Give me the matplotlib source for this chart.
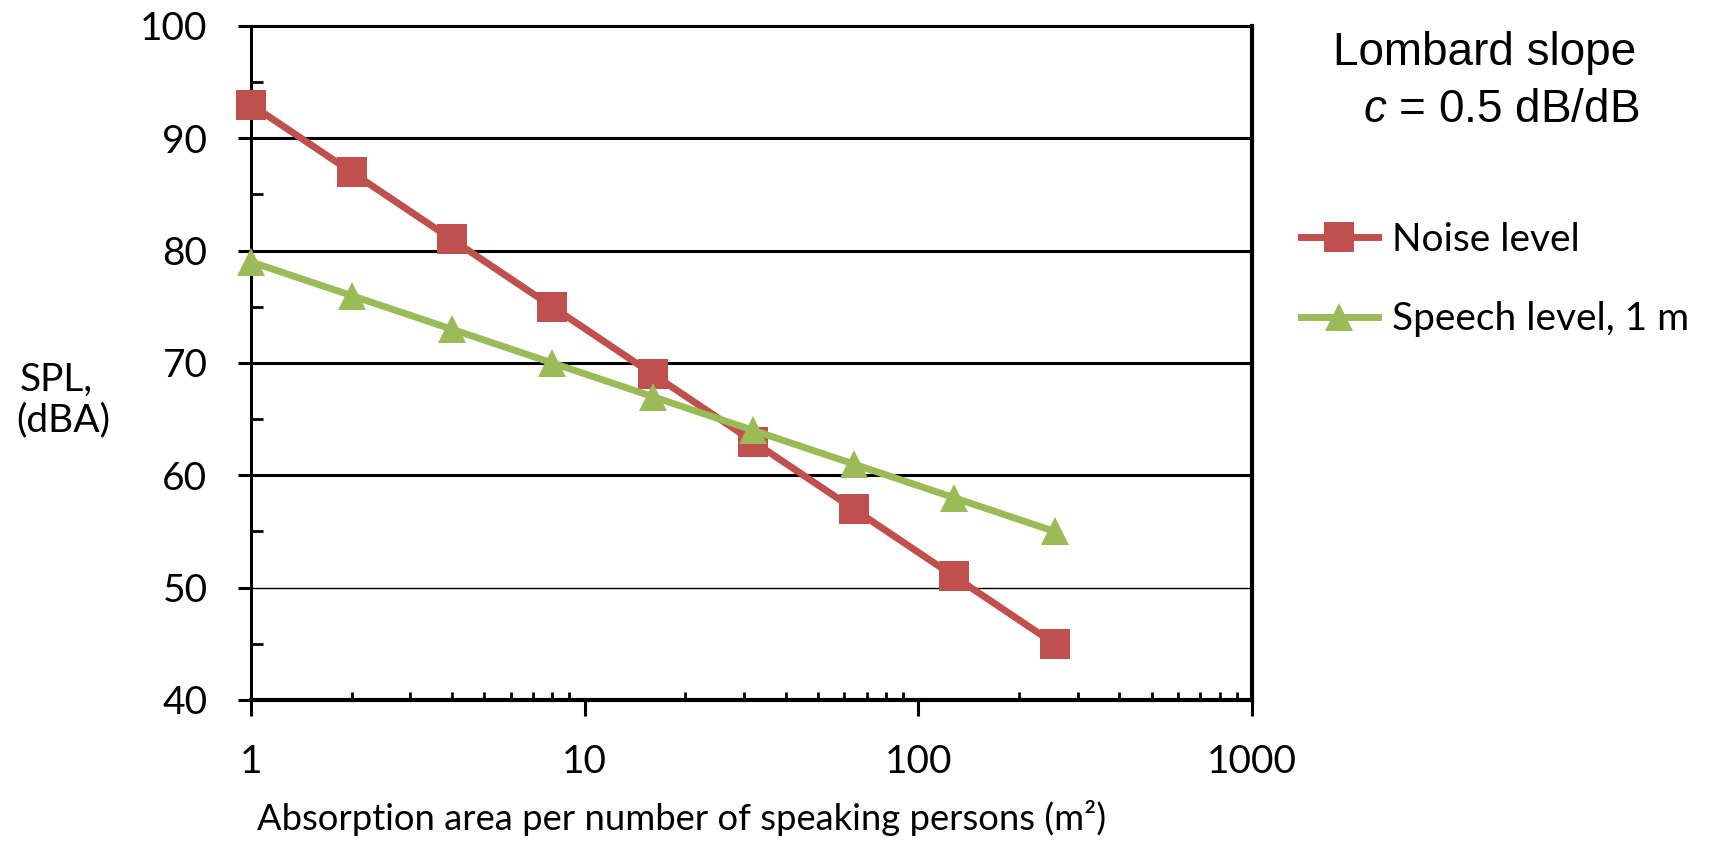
import matplotlib
matplotlib.use('Agg')
import matplotlib.pyplot as plt
from matplotlib.ticker import FixedLocator, NullFormatter

plt.rcParams['font.family'] = ['Lato', 'DejaVu Sans']
plt.rcParams['mathtext.fontset'] = 'custom'
plt.rcParams['mathtext.rm'] = 'Liberation Sans'
plt.rcParams['mathtext.it'] = 'Liberation Sans:italic'

# absorption area per speaking person (m2) and the two levels (dBA)
area = [1, 2, 4, 8, 16, 32, 64, 128, 256]
noise_level = [93, 87, 81, 75, 69, 63, 57, 51, 45]
speech_level = [79, 76, 73, 70, 67, 64, 61, 58, 55]

y_ticks = [40, 50, 60, 70, 80, 90, 100]
x_ticks = [1, 10, 100, 1000]
x_tick_labels = ['1', '10', '100', '1000']

RED = '#C0504D'
GREEN = '#9BBB59'

fig = plt.figure(figsize=(17.22, 8.41), dpi=100)
ax = fig.add_axes([0.1458, 0.1677, 0.5813, 0.8014])

ax.set_xscale('log')
ax.set_xlim(1, 1000)
ax.set_ylim(40, 100)

# horizontal gridlines (the 100 line doubles as the top border)
for v in y_ticks[1:]:
    ax.axhline(v, color='black', lw=1.0 if v == 50 else 2.2, zorder=1, clip_on=False)

ax.plot(area, noise_level, color=RED, lw=5.0, marker='s', ms=21, mew=0,
        label='Noise level', zorder=3, clip_on=False)
ax.plot(area, speech_level, color=GREEN, lw=5.0, marker='^', ms=20, mew=0,
        label='Speech level, 1 m', zorder=4, clip_on=False)

ax.spines['top'].set_visible(False)
ax.spines['left'].set_linewidth(2.2)
ax.spines['bottom'].set_linewidth(3.0)
ax.spines['right'].set_linewidth(3.0)

ax.set_yticks(y_ticks)
ax.yaxis.set_minor_locator(FixedLocator([45, 55, 65, 75, 85, 95]))
ax.tick_params(axis='y', which='major', direction='out', length=9.4, width=2.2,
               pad=22, labelsize=28)
ax.tick_params(axis='y', which='minor', direction='in', length=8.6, width=2.0)

ax.set_xticks(x_ticks)
ax.set_xticklabels(x_tick_labels)
ax.xaxis.set_minor_formatter(NullFormatter())
ax.tick_params(axis='x', which='major', direction='out', length=11.5, width=2.2,
               pad=20, labelsize=28)
ax.tick_params(axis='x', which='minor', direction='in', length=5.8, width=2.0)

fig.text(0.396, 0.027, 'Absorption area per number of speaking persons (m²)',
         ha='center', va='center', fontsize=26.2)
fig.text(0.0116, 0.549, 'SPL,', ha='left', va='center', fontsize=28)
fig.text(0.0093, 0.500, '(dBA)', ha='left', va='center', fontsize=28)

fig.text(0.8624, 0.937, 'Lombard slope', ha='center', va='center',
         fontsize=33, family='Liberation Sans')
fig.text(0.8717, 0.869, r'$c$ = 0.5 dB/dB', ha='center', va='center',
         fontsize=33, family='Liberation Sans')

ax.legend(loc='center left', bbox_to_anchor=(0.7555, 0.6675),
          bbox_transform=fig.transFigure, frameon=False, fontsize=28,
          handlelength=1.97, handletextpad=0.36, labelspacing=1.12,
          borderpad=0, borderaxespad=0)

fig.savefig('out.png', dpi=100)
